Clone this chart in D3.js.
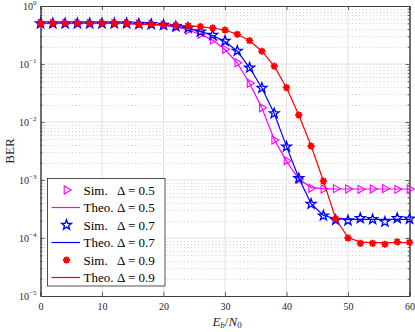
<!DOCTYPE html>
<html>
<head>
<meta charset="utf-8">
<script src="https://cdn.jsdelivr.net/npm/d3@7"></script>
<style>
  body { margin: 0; background: #fff; }
  text { font-family: "Liberation Serif", "Times New Roman", serif; }
</style>
</head>
<body>
<div id="chart"></div>
<script>
// Eb/N0 grid (dB)
const ebn0 = [0, 2, 4, 6, 8, 10, 12, 14, 16, 18, 20, 22, 24, 26, 28, 30,
              32, 34, 36, 38, 40, 42, 44, 46, 48, 50, 52, 54, 56, 58, 60];

// BER, Delta = 0.5
const simD05 = [0.50, 0.50, 0.50, 0.50, 0.50, 0.50, 0.50, 0.50, 0.49, 0.48, 0.465,
                0.435, 0.386, 0.325, 0.259, 0.179, 0.105, 0.0465, 0.0176, 0.0049,
                0.00215, 0.00103, 7.2e-4, 7.0e-4, 7.1e-4, 7.0e-4, 6.9e-4, 7.0e-4,
                7.1e-4, 6.9e-4, 7.0e-4];
const theoD05 = [0.50, 0.50, 0.50, 0.50, 0.50, 0.50, 0.50, 0.50, 0.49, 0.48, 0.465,
                 0.435, 0.386, 0.325, 0.258, 0.178, 0.104, 0.046, 0.0174, 0.0050,
                 0.0021, 0.00104, 7.4e-4, 7.1e-4, 7.0e-4, 7.0e-4, 7.0e-4, 7.0e-4,
                 7.0e-4, 7.0e-4, 7.0e-4];

// BER, Delta = 0.7
const simD07 = [0.50, 0.50, 0.50, 0.50, 0.50, 0.50, 0.50, 0.50, 0.49, 0.485, 0.47,
                0.446, 0.417, 0.36, 0.316, 0.249, 0.168, 0.0863, 0.0386, 0.0141,
                0.00375, 0.00107, 3.86e-4, 2.42e-4, 2.04e-4, 2.0e-4, 2.19e-4, 2.1e-4,
                1.9e-4, 2.19e-4, 2.14e-4];
const theoD07 = [0.50, 0.50, 0.50, 0.50, 0.50, 0.50, 0.50, 0.50, 0.49, 0.485, 0.47,
                 0.446, 0.415, 0.365, 0.31, 0.245, 0.166, 0.086, 0.0385, 0.014,
                 0.0038, 0.00108, 3.9e-4, 2.45e-4, 2.15e-4, 2.1e-4, 2.1e-4, 2.1e-4,
                 2.1e-4, 2.1e-4, 2.1e-4];

// BER, Delta = 0.9
const simD09 = [0.50, 0.50, 0.50, 0.50, 0.50, 0.50, 0.50, 0.50, 0.483, 0.483, 0.47,
                0.465, 0.457, 0.44, 0.418, 0.386, 0.325, 0.252, 0.166, 0.092,
                0.039, 0.0132, 0.00386, 9.6e-4, 2.13e-4, 1.0e-4, 8.1e-5, 8.1e-5,
                7.8e-5, 8.6e-5, 8.4e-5];
const theoD09 = [0.50, 0.50, 0.50, 0.50, 0.50, 0.50, 0.50, 0.50, 0.485, 0.482, 0.472,
                 0.465, 0.456, 0.44, 0.417, 0.385, 0.325, 0.252, 0.166, 0.092,
                 0.039, 0.0132, 0.0039, 9.6e-4, 2.15e-4, 1.02e-4, 8.5e-5, 8.3e-5,
                 8.3e-5, 8.3e-5, 8.3e-5];

const xTicks = [0, 10, 20, 30, 40, 50, 60];
const yExponents = [0, -1, -2, -3, -4, -5];
const legendNames = ["Sim.", "Theo.", "Sim.", "Theo.", "Sim.", "Theo."];
const legendDeltas = ["\u0394 = 0.5", "\u0394 = 0.5", "\u0394 = 0.7", "\u0394 = 0.7", "\u0394 = 0.9", "\u0394 = 0.9"];

const w = 415, h = 332;
const pLeft = 40.5, pRight = 409.5, pTop = 6, pBottom = 296;

const svg = d3.select("#chart")
  .append("svg")
  .attr("width", w)
  .attr("height", h);

const x = d3.scaleLinear().domain([0, 60]).range([pLeft, pRight]);
const y = d3.scaleLog().domain([1e-5, 1]).range([pBottom, pTop]);

// minor y values
const minorY = [];
yExponents.slice(1).forEach(function(e) {
  for (let k = 2; k <= 9; k++) minorY.push(k * Math.pow(10, e));
});

// grid
const grid = svg.append("g");
grid.selectAll(".minor")
  .data(minorY)
  .enter()
  .append("line")
  .attr("x1", pLeft).attr("x2", pRight)
  .attr("y1", d => Math.round(y(d)) + 0.5).attr("y2", d => Math.round(y(d)) + 0.5)
  .attr("stroke", "#c4c4c4")
  .attr("stroke-width", 0.8)
  .attr("stroke-dasharray", "1,2.5");
grid.selectAll(".majx")
  .data(xTicks.slice(1, -1))
  .enter()
  .append("line")
  .attr("x1", d => x(d)).attr("x2", d => x(d))
  .attr("y1", pTop).attr("y2", pBottom)
  .attr("stroke", "#e0e0e0")
  .attr("stroke-width", 1);
grid.selectAll(".majy")
  .data(yExponents.slice(1, -1))
  .enter()
  .append("line")
  .attr("x1", pLeft).attr("x2", pRight)
  .attr("y1", d => y(Math.pow(10, d))).attr("y2", d => y(Math.pow(10, d)))
  .attr("stroke", "#e0e0e0")
  .attr("stroke-width", 1);

// axes (ticks inward)
const axisColor = "#404040";
const xAxisB = d3.axisBottom(x).tickValues(xTicks).tickSize(-4).tickPadding(7);
const xAxisT = d3.axisTop(x).tickValues(xTicks).tickSize(-4).tickFormat("");
const yMajor = yExponents.map(e => Math.pow(10, e));
const yAxisL = d3.axisLeft(y).tickValues(yMajor).tickSize(-4).tickFormat("");
const yAxisR = d3.axisRight(y).tickValues(yMajor).tickSize(-4).tickFormat("");
const yMinL = d3.axisLeft(y).tickValues(minorY).tickSize(-2).tickFormat("");
const yMinR = d3.axisRight(y).tickValues(minorY).tickSize(-2).tickFormat("");

function styleAxis(g) {
  g.select(".domain").attr("stroke", axisColor).attr("stroke-width", 1);
  g.selectAll(".tick line").attr("stroke", axisColor).attr("stroke-width", 0.8);
  g.selectAll(".tick text").attr("fill", "#262626").attr("font-size", 10)
    .attr("font-family", "Liberation Serif, serif");
}
svg.append("g").attr("transform", `translate(0,${pBottom})`).call(xAxisB).call(styleAxis);
svg.append("g").attr("transform", `translate(0,${pTop})`).call(xAxisT).call(styleAxis);
svg.append("g").attr("transform", `translate(${pLeft},0)`).call(yAxisL).call(styleAxis);
svg.append("g").attr("transform", `translate(${pRight},0)`).call(yAxisR).call(styleAxis);
svg.append("g").attr("transform", `translate(${pLeft},0)`).call(yMinL).call(styleAxis);
svg.append("g").attr("transform", `translate(${pRight},0)`).call(yMinR).call(styleAxis);

// y tick labels as 10^e
const yl = svg.append("g").selectAll("text")
  .data(yExponents)
  .enter()
  .append("text")
  .attr("x", pLeft - 4)
  .attr("y", d => y(Math.pow(10, d)) + 4)
  .attr("text-anchor", "end")
  .attr("fill", "#262626")
  .attr("font-size", 10);
yl.append("tspan").text("10");
yl.append("tspan").attr("dy", -5).attr("font-size", 7).text(d => d === 0 ? "0" : "\u2212" + (-d));

// axis titles
svg.append("text")
  .attr("transform", `translate(14,${(pTop + pBottom) / 2}) rotate(-90)`)
  .attr("text-anchor", "middle")
  .attr("font-size", 13)
  .attr("fill", "#262626")
  .text("BER");

const xl = svg.append("text")
  .attr("x", 227).attr("y", 325.5)
  .attr("text-anchor", "middle")
  .attr("font-size", 13)
  .attr("fill", "#262626");
xl.append("tspan").attr("font-style", "italic").text("E");
xl.append("tspan").attr("font-style", "italic").attr("font-size", 9).attr("dy", 2.5).text("b");
xl.append("tspan").attr("dy", -2.5).text("/");
xl.append("tspan").attr("font-style", "italic").text("N");
xl.append("tspan").attr("font-size", 9).attr("dy", 2.5).text("0");

// markers
function triPath(r) {
  return `M${r},0L${-r / 2},${-r * 0.866}L${-r / 2},${r * 0.866}Z`;
}
function starPath(ro, ri) {
  let p = "";
  for (let i = 0; i < 10; i++) {
    const a = -Math.PI / 2 + i * Math.PI / 5;
    const r = i % 2 === 0 ? ro : ri;
    p += (i === 0 ? "M" : "L") + (r * Math.cos(a)).toFixed(2) + "," + (r * Math.sin(a)).toFixed(2);
  }
  return p + "Z";
}
function astPath(r) {
  let p = "";
  for (let i = 0; i < 4; i++) {
    const a = i * Math.PI / 4;
    p += `M${(r * Math.cos(a)).toFixed(2)},${(r * Math.sin(a)).toFixed(2)}L${(-r * Math.cos(a)).toFixed(2)},${(-r * Math.sin(a)).toFixed(2)}`;
  }
  return p;
}

const series = [
  {sim: simD05, theo: theoD05, color: "#ff00ff", marker: triPath(4.6), mw: 1.1},
  {sim: simD07, theo: theoD07, color: "#0000ff", marker: starPath(5.2, 2.1), mw: 1.3},
  {sim: simD09, theo: theoD09, color: "#ff0000", marker: astPath(3.6), mw: 1.8}
];

const line = d3.line()
  .x((d, i) => x(ebn0[i]))
  .y(d => y(d));

const plot = svg.append("g");
series.forEach(function(s) {
  plot.append("g").selectAll("path")
    .data(s.sim)
    .enter()
    .append("path")
    .attr("transform", (d, i) => `translate(${x(ebn0[i])},${y(d)})`)
    .attr("d", s.marker)
    .attr("fill", "none")
    .attr("stroke", s.color)
    .attr("stroke-width", s.mw);
  plot.append("path")
    .datum(s.theo)
    .attr("d", line)
    .attr("fill", "none")
    .attr("stroke", s.color)
    .attr("stroke-width", 1.2);
});

// legend
const lg = svg.append("g");
lg.append("rect")
  .attr("x", 47.5).attr("y", 178.5)
  .attr("width", 117.5).attr("height", 107.5)
  .attr("fill", "#fff")
  .attr("stroke", "#262626")
  .attr("stroke-width", 0.8);

legendNames.forEach(function(name, i) {
  const s = series[Math.floor(i / 2)];
  const yy = 190 + i * 17.5;
  if (i % 2 === 0) {
    lg.append("path")
      .attr("transform", `translate(66.5,${yy})`)
      .attr("d", s.marker)
      .attr("fill", "none")
      .attr("stroke", s.color)
      .attr("stroke-width", s.mw);
  } else {
    lg.append("line")
      .attr("x1", 51.5).attr("x2", 80)
      .attr("y1", yy).attr("y2", yy)
      .attr("stroke", s.color)
      .attr("stroke-width", 1.2);
  }
  lg.append("text")
    .attr("x", 83.5).attr("y", yy + 4.5)
    .attr("font-size", 13)
    .attr("fill", "#000")
    .text(name);
  lg.append("text")
    .attr("x", 117).attr("y", yy + 4.5)
    .attr("font-size", 13)
    .attr("fill", "#000")
    .text(legendDeltas[i]);
});
</script>
</body>
</html>
